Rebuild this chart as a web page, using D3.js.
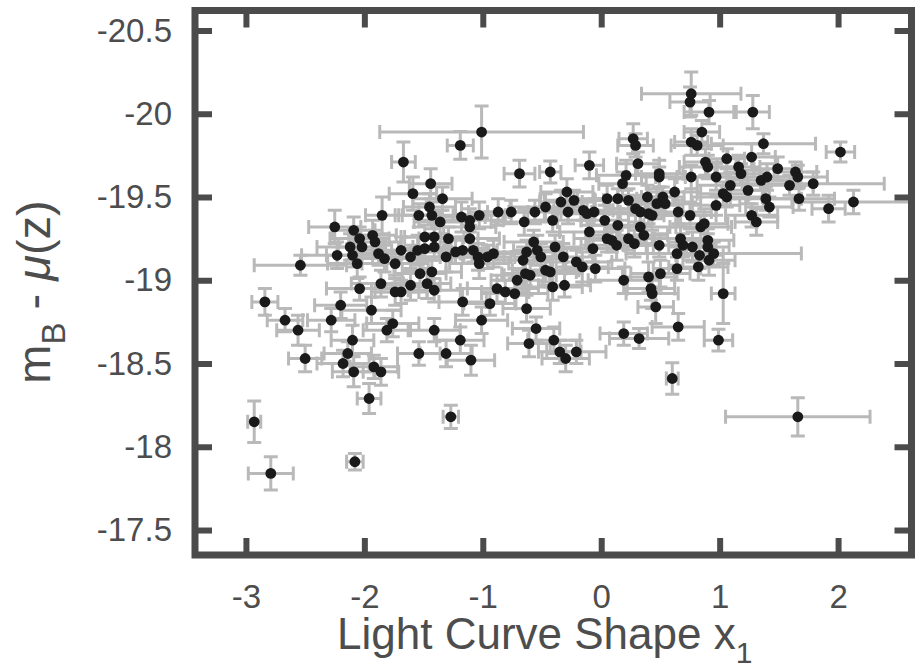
<!DOCTYPE html>
<html>
<head>
<meta charset="utf-8">
<script src="https://cdn.jsdelivr.net/npm/d3@7"></script>
<style>
  html, body { margin: 0; padding: 0; background: #ffffff; }
  svg { display: block; }
  text { font-family: "Liberation Sans", Arial, Helvetica, sans-serif; fill: #4d4d4d; }
</style>
</head>
<body>
<div id="chart"></div>
<script>
// ---- data (x1 = light curve shape, mB = m_B - mu(z)) ----
const x1 = [
 -1.01,-1.19,-1.67,-0.69,-0.43,0.76,0.75,0.91,1.28,0.85,0.27,0.29,0.76,0.81,1.37,2.02,-0.10,0.31,0.49,0.49,
 0.21,0.18,0.88,0.90,1.06,1.27,1.16,1.18,0.97,0.76,1.49,1.64,1.66,1.40,1.35,1.79,1.59,1.09,1.03,1.06,
 1.24,1.39,1.42,1.67,1.92,2.13,0.62,0.39,0.52,0.47,0.54,0.05,0.14,0.23,0.29,0.33,0.40,0.43,0.65,0.75,
 0.97,1.27,1.31,0.84,0.87,-0.29,-0.23,-0.34,-0.47,-0.28,-0.15,-0.06,-0.12,0.03,-0.41,0.14,0.33,-0.10,0.36,0.05,
 0.09,0.13,0.23,0.28,0.49,0.67,0.69,0.77,0.90,0.90,0.64,0.83,0.95,0.91,-0.07,-0.39,-0.32,-0.21,-0.16,-0.05,
 -0.47,-0.43,-0.41,-0.31,0.19,0.40,0.50,0.64,0.82,0.42,0.43,1.03,0.46,0.65,0.19,0.32,0.99,0.60,-0.40,-0.35,
 -0.30,-0.21,1.66,
 -0.87,-0.76,-0.65,-0.56,-1.44,-1.59,-1.34,-1.85,-1.45,-1.54,-1.43,-1.36,-1.18,-1.11,-1.03,-2.25,-2.09,-2.04,-1.93,-1.91,
 -2.12,-2.02,-2.23,-2.10,-2.06,-1.88,-1.83,-1.74,-1.69,-1.61,-1.55,-1.49,-1.41,-1.49,-1.41,-1.29,-1.31,-1.23,-1.17,-1.11,
 -1.11,-1.08,-1.04,-1.03,-0.96,-0.91,-2.54,-1.53,-1.43,-1.47,-1.41,-1.86,-2.04,-1.74,-1.69,-1.61,-1.17,-0.94,-0.88,-0.81,
 -0.73,-0.71,-0.66,-0.64,-0.60,-0.57,-0.54,-0.51,-0.63,-0.63,-2.84,-2.67,-2.56,-2.20,-2.28,-1.94,-1.81,-1.76,-2.10,-2.50,
 -2.14,-2.18,-2.09,-1.92,-1.86,-1.96,-1.41,-1.19,-1.54,-1.31,-1.10,-1.01,-0.55,-0.61,-2.93,-2.79,-2.08,-1.27
];
const mB = [
 -19.89,-19.81,-19.71,-19.64,-19.65,-20.12,-20.07,-20.01,-20.01,-19.89,-19.85,-19.81,-19.83,-19.81,-19.82,-19.77,-19.69,-19.70,-19.64,-19.62,
 -19.63,-19.58,-19.71,-19.68,-19.73,-19.74,-19.68,-19.64,-19.62,-19.62,-19.67,-19.65,-19.62,-19.62,-19.60,-19.58,-19.57,-19.57,-19.52,-19.50,
 -19.54,-19.49,-19.44,-19.49,-19.43,-19.47,-19.53,-19.50,-19.50,-19.46,-19.46,-19.49,-19.49,-19.48,-19.43,-19.41,-19.40,-19.39,-19.41,-19.39,
 -19.45,-19.39,-19.35,-19.32,-19.34,-19.53,-19.48,-19.47,-19.44,-19.41,-19.42,-19.41,-19.40,-19.36,-19.36,-19.33,-19.32,-19.29,-19.27,-19.25,
 -19.24,-19.21,-19.25,-19.22,-19.21,-19.25,-19.21,-19.20,-19.24,-19.20,-19.16,-19.15,-19.16,-19.12,-19.19,-19.20,-19.14,-19.11,-19.08,-19.07,
 -19.06,-19.05,-18.96,-18.97,-19.00,-19.02,-19.04,-19.07,-19.08,-18.95,-18.92,-18.92,-18.84,-18.72,-18.68,-18.65,-18.64,-18.41,-18.64,-18.57,
 -18.53,-18.57,-18.18,
 -19.41,-19.41,-19.35,-19.41,-19.58,-19.52,-19.49,-19.39,-19.44,-19.39,-19.39,-19.35,-19.38,-19.36,-19.39,-19.32,-19.30,-19.25,-19.27,-19.23,
 -19.20,-19.20,-19.15,-19.15,-19.10,-19.16,-19.13,-19.10,-19.18,-19.14,-19.18,-19.26,-19.26,-19.19,-19.20,-19.25,-19.14,-19.17,-19.18,-19.32,
 -19.25,-19.18,-19.14,-19.10,-19.14,-19.16,-19.09,-19.04,-19.05,-18.98,-18.94,-18.98,-18.95,-18.93,-18.93,-18.97,-18.87,-18.86,-18.95,-18.93,
 -18.92,-19.00,-19.12,-19.04,-19.03,-19.23,-19.18,-19.14,-19.17,-18.83,-18.87,-18.76,-18.70,-18.85,-18.76,-18.82,-18.70,-18.74,-18.64,-18.53,
 -18.56,-18.50,-18.45,-18.48,-18.45,-18.29,-18.70,-18.64,-18.56,-18.56,-18.52,-18.76,-18.71,-18.62,-18.15,-17.84,-17.91,-18.18
];
const x1Err = [
 0.86,0.11,0.10,0.13,0.09,0.42,0.17,0.21,0.14,0.15,0.12,0.15,0.14,0.22,0.44,0.12,0.12,0.18,0.20,0.15,
 0.25,0.20,0.18,0.24,0.15,0.20,0.18,0.22,0.26,0.30,0.20,0.18,0.25,0.22,0.28,0.60,0.20,0.28,0.22,0.30,
 0.18,0.30,0.20,0.30,0.14,0.52,0.22,0.25,0.18,0.22,0.30,0.25,0.20,0.28,0.22,0.18,0.25,0.20,0.28,0.22,
 0.20,0.22,0.18,0.26,0.20,0.22,0.25,0.18,0.30,0.20,0.25,0.22,0.28,0.20,0.24,0.22,0.30,0.25,0.20,0.28,
 0.22,0.25,0.20,0.22,0.30,0.22,0.25,0.20,0.22,0.18,0.25,0.20,0.74,0.22,0.28,0.22,0.25,0.30,0.22,0.25,
 0.28,0.22,0.25,0.22,0.30,0.22,0.25,0.20,0.25,0.20,0.22,0.10,0.15,0.22,0.20,0.25,0.12,0.05,0.22,0.18,
 0.20,0.25,0.61,
 0.25,0.20,0.28,0.22,0.18,0.20,0.25,0.14,0.22,0.20,0.25,0.22,0.20,0.28,0.22,0.22,0.18,0.25,0.20,0.22,
 0.28,0.20,0.30,0.22,0.25,0.20,0.22,0.28,0.20,0.25,0.22,0.20,0.25,0.22,0.18,0.25,0.22,0.28,0.20,0.22,
 0.25,0.20,0.22,0.25,0.20,0.28,0.39,0.22,0.25,0.20,0.22,0.25,0.28,0.20,0.22,0.25,0.20,0.22,0.25,0.20,
 0.28,0.22,0.25,0.20,0.22,0.25,0.20,0.22,0.25,0.20,0.11,0.15,0.18,0.22,0.20,0.25,0.20,0.22,0.18,0.14,
 0.20,0.22,0.18,0.20,0.15,0.10,0.22,0.20,0.18,0.22,0.20,0.22,0.20,0.18,0.055,0.19,0.07,0.065
];
const mBErr = [
 0.156,0.084,0.12,0.08,0.066,0.13,0.09,0.07,0.10,0.07,0.09,0.07,0.08,0.06,0.06,0.06,0.08,0.07,0.08,0.06,
 0.09,0.07,0.08,0.07,0.06,0.08,0.07,0.06,0.08,0.07,0.07,0.06,0.07,0.08,0.06,0.07,0.06,0.08,0.07,0.06,
 0.08,0.07,0.06,0.07,0.08,0.07,0.08,0.07,0.06,0.09,0.07,0.08,0.06,0.07,0.08,0.07,0.06,0.09,0.07,0.08,
 0.06,0.07,0.08,0.07,0.09,0.08,0.06,0.07,0.08,0.07,0.06,0.08,0.07,0.09,0.07,0.08,0.07,0.08,0.06,0.08,
 0.07,0.09,0.07,0.08,0.07,0.08,0.07,0.09,0.07,0.08,0.07,0.08,0.07,0.09,0.08,0.07,0.08,0.07,0.09,0.08,
 0.07,0.09,0.08,0.07,0.08,0.09,0.08,0.07,0.08,0.07,0.09,0.18,0.10,0.08,0.07,0.06,0.065,0.095,0.08,0.07,
 0.08,0.07,0.115,
 0.08,0.07,0.08,0.07,0.09,0.10,0.07,0.11,0.08,0.07,0.08,0.07,0.09,0.07,0.08,0.10,0.08,0.07,0.09,0.07,
 0.08,0.07,0.08,0.07,0.09,0.07,0.08,0.07,0.08,0.07,0.09,0.07,0.08,0.07,0.08,0.07,0.09,0.07,0.08,0.07,
 0.08,0.07,0.08,0.09,0.07,0.08,0.06,0.08,0.07,0.09,0.07,0.08,0.07,0.08,0.07,0.09,0.08,0.07,0.08,0.07,
 0.09,0.07,0.08,0.07,0.08,0.07,0.09,0.08,0.07,0.08,0.08,0.07,0.09,0.08,0.07,0.08,0.07,0.08,0.09,0.08,
 0.07,0.08,0.09,0.07,0.08,0.09,0.07,0.08,0.07,0.08,0.09,0.08,0.07,0.08,0.125,0.10,0.05,0.07
];
const xTicks = [-3, -2, -1, 0, 1, 2];
const yTicks = [-20.5, -20, -19.5, -19, -18.5, -18, -17.5];
const xTitle = "Light Curve Shape x";
const xTitleSub = "1";

// ---- layout ----
const W = 915, H = 669;
const L = 195, R = 911.5, T = 10.5, B = 555;
const frameColor = "#4b4b4b";

const x = d3.scaleLinear().domain([-3.43, 2.62]).range([L, R]);
const y = d3.scaleLinear().domain([-20.62, -17.35]).range([T, B]);

const svg = d3.select("#chart").append("svg").attr("width", W).attr("height", H);
svg.append("rect").attr("width", W).attr("height", H).attr("fill", "#ffffff");

svg.append("defs").append("clipPath").attr("id", "clip")
  .append("rect").attr("x", L).attr("y", T).attr("width", R - L).attr("height", B - T);

const pts = x1.map((v, i) => ({ x: v, y: mB[i], ex: x1Err[i], ey: mBErr[i] }));

const errG = svg.append("g").attr("clip-path", "url(#clip)")
  .attr("stroke", "#b9b9b9").attr("stroke-width", 3).attr("fill", "none");
const cap = 7;
pts.forEach(d => {
  const cx = x(d.x), cy = y(d.y);
  const x0 = x(d.x - d.ex), x1p = x(d.x + d.ex);
  const y0 = y(d.y - d.ey), y1p = y(d.y + d.ey);
  const p = d3.path();
  p.moveTo(x0, cy); p.lineTo(x1p, cy);
  p.moveTo(x0, cy - cap); p.lineTo(x0, cy + cap);
  p.moveTo(x1p, cy - cap); p.lineTo(x1p, cy + cap);
  p.moveTo(cx, y0); p.lineTo(cx, y1p);
  p.moveTo(cx - cap, y0); p.lineTo(cx + cap, y0);
  p.moveTo(cx - cap, y1p); p.lineTo(cx + cap, y1p);
  errG.append("path").attr("d", p.toString());
});

svg.append("g").attr("clip-path", "url(#clip)")
  .selectAll("circle").data(pts).join("circle")
  .attr("cx", d => x(d.x)).attr("cy", d => y(d.y)).attr("r", 5.4)
  .attr("fill", "#1a1a1a");

// axes (ticks inward on all four sides)
const tickLen = 17;
function styleAxis(g) {
  g.select(".domain").remove();
  g.selectAll(".tick line").attr("stroke", frameColor).attr("stroke-width", 6);
  g.selectAll(".tick text").attr("fill", "#4d4d4d")
    .style("font-family", '"Liberation Sans", Arial, sans-serif').style("font-size", "33px");
}
svg.append("g").attr("transform", `translate(0,${B})`)
  .call(d3.axisBottom(x).tickValues(xTicks).tickSize(-tickLen).tickPadding(30).tickFormat(d => String(d)))
  .call(styleAxis);
svg.append("g").attr("transform", `translate(0,${T})`)
  .call(d3.axisTop(x).tickValues(xTicks).tickSize(-tickLen).tickFormat(""))
  .call(styleAxis);
svg.append("g").attr("transform", `translate(${L},0)`)
  .call(d3.axisLeft(y).tickValues(yTicks).tickSize(-tickLen).tickPadding(23).tickFormat(d => String(d)))
  .call(styleAxis);
svg.append("g").attr("transform", `translate(${R},0)`)
  .call(d3.axisRight(y).tickValues(yTicks).tickSize(-tickLen).tickFormat(""))
  .call(styleAxis);

// frame
svg.append("rect").attr("x", L).attr("y", T).attr("width", R - L).attr("height", B - T)
  .attr("fill", "none").attr("stroke", frameColor).attr("stroke-width", 7);

// axis titles
const xt = svg.append("text").attr("x", 337).attr("y", 649)
  .style("font-size", "44px");
xt.append("tspan").text(xTitle);
xt.append("tspan").attr("dy", 14).style("font-size", "30px").text(xTitleSub);

const yt = svg.append("text").attr("transform", "translate(50,292) rotate(-90)")
  .attr("text-anchor", "middle").style("font-size", "47px");
yt.append("tspan").text("m");
yt.append("tspan").attr("dy", 15).style("font-size", "33px").text("B");
yt.append("tspan").attr("dy", -15).text(" - ");
yt.append("tspan").style("font-style", "italic").text("\u03BC");
yt.append("tspan").text("(z)");
</script>
</body>
</html>
